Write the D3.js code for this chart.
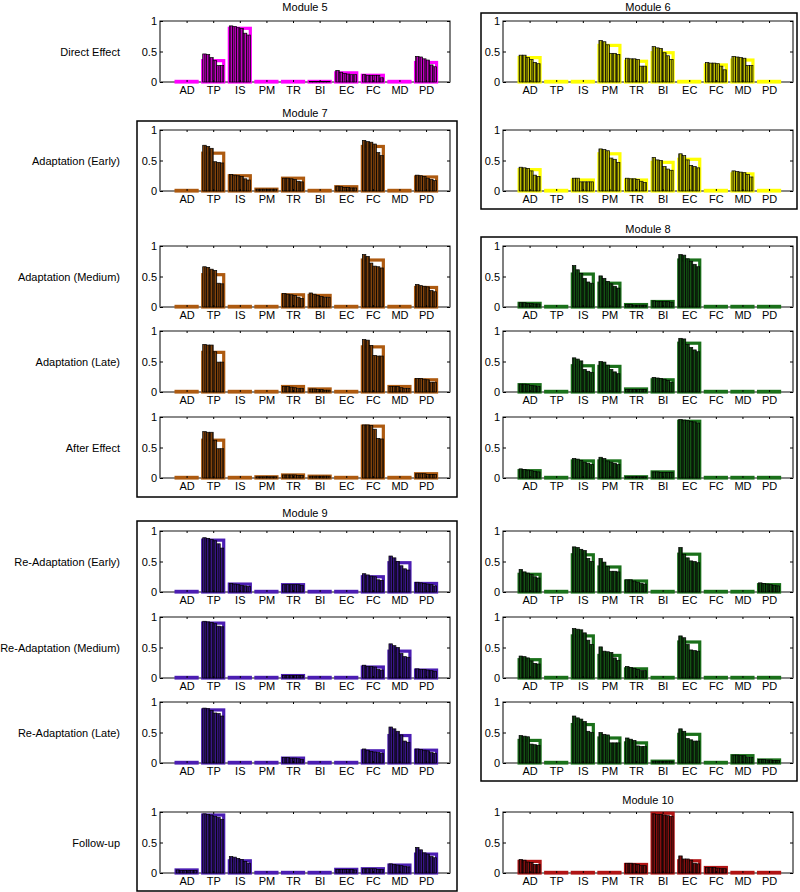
<!DOCTYPE html>
<html>
<head>
<meta charset="utf-8">
<script src="https://cdn.jsdelivr.net/npm/d3@7"></script>
<style>
  body { margin: 0; background: #fff; }
  text { font-family: "Liberation Sans", Arial, sans-serif; }
</style>
</head>
<body>
<div id="chart"></div>
<script>
const categories = ["AD", "TP", "IS", "PM", "TR", "BI", "EC", "FC", "MD", "PD"];
const rowLabels = ["Direct Effect", "Adaptation (Early)", "Adaptation (Medium)", "Adaptation (Late)",
    "After Effect", "Re-Adaptation (Early)", "Re-Adaptation (Medium)", "Re-Adaptation (Late)", "Follow-up"];

// Module 5 - Direct Effect
const m5Means = [[0.01, 0.35, 0.88, 0.01, 0.01, 0.01, 0.15, 0.11, 0.01, 0.32]];
const m5Bars = [[[], [0.46, 0.45, 0.40, 0.35, 0.27, 0.27], [0.92, 0.91, 0.89, 0.88, 0.80, 0.77], [], [],
    [0.01, 0.01, 0.01, 0.01, 0.01, 0.01], [0.19, 0.16, 0.14, 0.13, 0.12, 0.12], [0.12, 0.11, 0.11, 0.11, 0.11, 0.07],
    [], [0.42, 0.41, 0.38, 0.36, 0.28, 0.25]]];

// Module 6 - Direct Effect, Adaptation (Early)
const m6Means = [
    [0.40, 0.01, 0.01, 0.60, 0.34, 0.48, 0.01, 0.28, 0.36, 0.01],
    [0.35, 0.01, 0.18, 0.61, 0.18, 0.47, 0.52, 0.01, 0.28, 0.01]
];
const m6Bars = [
    [[0.44, 0.44, 0.40, 0.37, 0.32, 0.30], [], [], [0.68, 0.66, 0.61, 0.47, 0.47, 0.45],
     [0.39, 0.38, 0.38, 0.37, 0.26, 0.26], [0.58, 0.56, 0.55, 0.48, 0.43, 0.37], [],
     [0.32, 0.31, 0.31, 0.30, 0.26, 0.20], [0.42, 0.41, 0.40, 0.39, 0.27, 0.27], []],
    [[0.39, 0.38, 0.37, 0.33, 0.26, 0.24], [], [0.21, 0.21, 0.15, 0.15, 0.15, 0.15], [0.69, 0.68, 0.66, 0.54, 0.52, 0.47],
     [0.21, 0.20, 0.20, 0.19, 0.16, 0.14], [0.55, 0.51, 0.50, 0.40, 0.36, 0.34], [0.61, 0.58, 0.51, 0.42, 0.40, 0.38],
     [], [0.33, 0.32, 0.31, 0.30, 0.27, 0.23], []]
];

// Module 7 - Adaptation (Early, Medium, Late), After Effect
const m7Means = [
    [0.01, 0.62, 0.25, 0.03, 0.21, 0.01, 0.07, 0.73, 0.01, 0.23],
    [0.01, 0.53, 0.01, 0.01, 0.20, 0.19, 0.01, 0.77, 0.01, 0.32],
    [0.01, 0.65, 0.01, 0.01, 0.09, 0.05, 0.01, 0.74, 0.09, 0.20],
    [0.01, 0.62, 0.01, 0.02, 0.05, 0.03, 0.01, 0.85, 0.01, 0.07]
];
const m7Bars = [
    [[], [0.75, 0.73, 0.70, 0.48, 0.47, 0.46], [0.27, 0.26, 0.25, 0.24, 0.20, 0.18], [0.03, 0.03, 0.03, 0.03, 0.03, 0.03],
     [0.21, 0.21, 0.20, 0.19, 0.16, 0.15], [], [0.08, 0.07, 0.06, 0.06, 0.05, 0.05],
     [0.83, 0.81, 0.80, 0.77, 0.63, 0.58], [], [0.26, 0.25, 0.24, 0.21, 0.19, 0.17]],
    [[], [0.66, 0.65, 0.62, 0.60, 0.39, 0.38], [], [], [0.22, 0.21, 0.20, 0.19, 0.16, 0.14],
     [0.23, 0.21, 0.19, 0.17, 0.16, 0.16], [], [0.86, 0.83, 0.72, 0.67, 0.66, 0.64], [],
     [0.37, 0.35, 0.34, 0.33, 0.27, 0.25]],
    [[], [0.78, 0.77, 0.77, 0.66, 0.49, 0.49], [], [], [0.09, 0.09, 0.08, 0.07, 0.06, 0.06],
     [0.05, 0.05, 0.04, 0.04, 0.03, 0.03], [], [0.86, 0.85, 0.76, 0.60, 0.59, 0.59],
     [0.09, 0.09, 0.09, 0.07, 0.06, 0.06], [0.22, 0.22, 0.21, 0.20, 0.16, 0.16]],
    [[], [0.76, 0.75, 0.75, 0.62, 0.48, 0.48], [], [0.02, 0.02, 0.02, 0.02, 0.02, 0.02],
     [0.05, 0.05, 0.05, 0.05, 0.04, 0.04], [0.03, 0.03, 0.03, 0.03, 0.03, 0.03], [],
     [0.87, 0.87, 0.86, 0.80, 0.65, 0.64], [], [0.07, 0.07, 0.07, 0.06, 0.06, 0.06]]
];

// Module 8 - Adaptation (Medium, Late), After Effect, Re-Adaptation (Early, Medium, Late)
const m8Means = [
    [0.06, 0.01, 0.54, 0.39, 0.04, 0.09, 0.77, 0.01, 0.01, 0.01],
    [0.12, 0.01, 0.43, 0.42, 0.05, 0.20, 0.80, 0.01, 0.01, 0.01],
    [0.12, 0.01, 0.28, 0.28, 0.02, 0.10, 0.93, 0.01, 0.01, 0.01],
    [0.29, 0.01, 0.61, 0.41, 0.18, 0.01, 0.62, 0.01, 0.01, 0.12],
    [0.30, 0.01, 0.69, 0.37, 0.15, 0.01, 0.59, 0.01, 0.01, 0.01],
    [0.37, 0.01, 0.63, 0.41, 0.33, 0.03, 0.47, 0.01, 0.12, 0.05]
];
const m8Bars = [
    [[0.07, 0.07, 0.06, 0.06, 0.05, 0.05], [], [0.68, 0.61, 0.55, 0.47, 0.41, 0.39], [0.51, 0.47, 0.42, 0.38, 0.34, 0.31],
     [0.04, 0.04, 0.03, 0.03, 0.03, 0.03], [0.10, 0.09, 0.09, 0.09, 0.09, 0.08], [0.86, 0.85, 0.79, 0.75, 0.70, 0.66],
     [], [], []],
    [[0.13, 0.13, 0.12, 0.11, 0.10, 0.09], [], [0.56, 0.54, 0.51, 0.37, 0.34, 0.32], [0.50, 0.49, 0.44, 0.37, 0.33, 0.30],
     [0.04, 0.04, 0.04, 0.04, 0.04, 0.04], [0.24, 0.23, 0.22, 0.21, 0.19, 0.16], [0.88, 0.87, 0.78, 0.73, 0.69, 0.66],
     [], [], []],
    [[0.15, 0.14, 0.13, 0.12, 0.11, 0.10], [], [0.32, 0.31, 0.29, 0.26, 0.24, 0.22], [0.34, 0.32, 0.28, 0.26, 0.24, 0.22],
     [0.02, 0.02, 0.02, 0.02, 0.02, 0.02], [0.10, 0.10, 0.09, 0.09, 0.09, 0.09], [0.96, 0.95, 0.94, 0.93, 0.92, 0.90],
     [], [], []],
    [[0.37, 0.33, 0.31, 0.29, 0.25, 0.23], [], [0.74, 0.73, 0.70, 0.68, 0.55, 0.50], [0.55, 0.49, 0.42, 0.34, 0.34, 0.33],
     [0.20, 0.20, 0.18, 0.16, 0.14, 0.13], [], [0.73, 0.62, 0.56, 0.51, 0.50, 0.48], [], [],
     [0.15, 0.14, 0.13, 0.12, 0.11, 0.10]],
    [[0.36, 0.35, 0.33, 0.28, 0.24, 0.23], [], [0.81, 0.80, 0.79, 0.74, 0.62, 0.55], [0.51, 0.44, 0.43, 0.42, 0.33, 0.29],
     [0.19, 0.17, 0.16, 0.14, 0.12, 0.12], [], [0.69, 0.66, 0.55, 0.46, 0.45, 0.44], [], [], []],
    [[0.45, 0.44, 0.43, 0.31, 0.30, 0.29], [], [0.77, 0.74, 0.72, 0.68, 0.52, 0.50], [0.50, 0.47, 0.46, 0.33, 0.33, 0.33],
     [0.41, 0.39, 0.37, 0.28, 0.27, 0.27], [0.03, 0.03, 0.03, 0.03, 0.03, 0.03], [0.56, 0.52, 0.40, 0.38, 0.36, 0.36],
     [], [0.13, 0.13, 0.12, 0.12, 0.09, 0.09], [0.06, 0.06, 0.05, 0.05, 0.04, 0.04]]
];

// Module 9 - Re-Adaptation (Early, Medium, Late), Follow-up
const m9Means = [
    [0.01, 0.85, 0.13, 0.01, 0.12, 0.01, 0.01, 0.25, 0.48, 0.14],
    [0.01, 0.90, 0.01, 0.01, 0.04, 0.01, 0.01, 0.18, 0.44, 0.13],
    [0.01, 0.87, 0.01, 0.01, 0.08, 0.01, 0.01, 0.20, 0.45, 0.21],
    [0.05, 0.95, 0.20, 0.01, 0.01, 0.01, 0.06, 0.07, 0.13, 0.31]
];
const m9Bars = [
    [[], [0.89, 0.88, 0.86, 0.84, 0.79, 0.72], [0.14, 0.13, 0.12, 0.11, 0.10, 0.09], [],
     [0.12, 0.12, 0.12, 0.12, 0.12, 0.11], [], [], [0.30, 0.28, 0.26, 0.25, 0.20, 0.19],
     [0.59, 0.56, 0.50, 0.43, 0.38, 0.36], [0.16, 0.15, 0.14, 0.13, 0.12, 0.10]],
    [[], [0.93, 0.92, 0.91, 0.89, 0.85, 0.84], [], [], [0.04, 0.04, 0.04, 0.04, 0.04, 0.04], [], [],
     [0.21, 0.19, 0.19, 0.18, 0.14, 0.13], [0.56, 0.53, 0.50, 0.40, 0.35, 0.34], [0.15, 0.14, 0.14, 0.13, 0.12, 0.11]],
    [[], [0.90, 0.89, 0.86, 0.82, 0.81, 0.77], [], [], [0.09, 0.09, 0.08, 0.08, 0.07, 0.06], [], [],
     [0.23, 0.21, 0.19, 0.18, 0.17, 0.16], [0.59, 0.56, 0.52, 0.46, 0.36, 0.34], [0.23, 0.22, 0.21, 0.20, 0.17, 0.16]],
    [[0.05, 0.04, 0.04, 0.04, 0.04, 0.04], [0.97, 0.96, 0.95, 0.93, 0.91, 0.88], [0.27, 0.26, 0.24, 0.22, 0.19, 0.16],
     [], [], [], [0.06, 0.06, 0.06, 0.06, 0.06, 0.05], [0.07, 0.07, 0.07, 0.07, 0.06, 0.06],
     [0.15, 0.14, 0.13, 0.12, 0.11, 0.10], [0.42, 0.38, 0.33, 0.31, 0.27, 0.25]]
];

// Module 10 - Follow-up
const m10Means = [[0.19, 0.01, 0.01, 0.01, 0.14, 0.98, 0.20, 0.09, 0.01, 0.01]];
const m10Bars = [[[0.22, 0.21, 0.18, 0.17, 0.14, 0.14], [], [], [], [0.16, 0.16, 0.15, 0.14, 0.12, 0.12],
    [0.97, 0.96, 0.96, 0.95, 0.94, 0.93], [0.28, 0.23, 0.23, 0.21, 0.16, 0.15], [0.09, 0.09, 0.09, 0.08, 0.07, 0.07],
    [], []]];

// layout
const width = 800, height = 892;
const colX = [160, 503];
const rowTop = [21, 130, 246, 331, 417, 531, 617, 702, 812];
const panelW = 290, panelH = 61;
const fontSize = 11;

const modules = [
    { name: "Module 5", color: "#ff00ff", col: 0, row: 0, means: m5Means, bars: m5Bars, titleY: 11, box: null },
    { name: "Module 6", color: "#ffff00", col: 1, row: 0, means: m6Means, bars: m6Bars, titleY: 11, box: [481, 13, 797, 209] },
    { name: "Module 7", color: "#ad5a10", col: 0, row: 1, means: m7Means, bars: m7Bars, titleY: 117, box: [137, 121, 457, 497] },
    { name: "Module 8", color: "#1a701a", col: 1, row: 2, means: m8Means, bars: m8Bars, titleY: 233, box: [481, 237, 797, 781] },
    { name: "Module 9", color: "#4b1db2", col: 0, row: 5, means: m9Means, bars: m9Bars, titleY: 517, box: [137, 521, 457, 891] },
    { name: "Module 10", color: "#b01414", col: 1, row: 8, means: m10Means, bars: m10Bars, titleY: 804, box: null }
];

const svg = d3.select("#chart").append("svg")
    .attr("width", width)
    .attr("height", height);

const defs = svg.append("defs");

const x = d3.scaleLinear().domain([0, 10.9]).range([0, panelW]);
const y = d3.scaleLinear().domain([0, 1]).range([panelH, 0]);
const groupW = 21;
const barW = groupW / 6;

// row labels
svg.selectAll(".row-label")
    .data(rowLabels)
    .enter()
    .append("text")
    .attr("class", "row-label")
    .attr("x", 120)
    .attr("y", (d, i) => rowTop[i] + panelH / 2 + 4)
    .attr("text-anchor", "end")
    .attr("font-size", fontSize)
    .text(d => d);

modules.forEach((m, mi) => {
    // stripe pattern for the narrow bars
    const patId = "pat" + mi;
    const pat = defs.append("pattern")
        .attr("id", patId)
        .attr("patternUnits", "userSpaceOnUse")
        .attr("width", 2)
        .attr("height", 4);
    pat.append("rect").attr("width", 2).attr("height", 4).attr("fill", d3.color(m.color).darker(2.8));
    pat.append("rect").attr("x", 1).attr("width", 1).attr("height", 4).attr("fill", m.color).attr("opacity", 0.6);

    if (m.box) {
        svg.append("rect")
            .attr("x", m.box[0]).attr("y", m.box[1])
            .attr("width", m.box[2] - m.box[0]).attr("height", m.box[3] - m.box[1])
            .attr("fill", "none").attr("stroke", "#000").attr("stroke-width", 1.5);
    }

    svg.append("text")
        .attr("x", colX[m.col] + panelW / 2)
        .attr("y", m.titleY)
        .attr("text-anchor", "middle")
        .attr("font-size", fontSize)
        .text(m.name);

    m.means.forEach((means, ri) => {
        const g = svg.append("g")
            .attr("transform", `translate(${colX[m.col]}, ${rowTop[m.row + ri]})`);
        drawPanel(g, means, m.bars[ri], m.color, patId);
    });
});

function drawPanel(g, means, bars, color, patId) {
    // frame
    g.append("rect")
        .attr("width", panelW).attr("height", panelH)
        .attr("fill", "none").attr("stroke", "#000").attr("stroke-width", 1);
    g.append("line")
        .attr("x1", 0).attr("x2", panelW).attr("y1", 0).attr("y2", 0)
        .attr("stroke", "#8a8a8a").attr("stroke-width", 2);
    g.append("line")
        .attr("x1", 0).attr("x2", panelW).attr("y1", panelH).attr("y2", panelH)
        .attr("stroke", "#8a8a8a").attr("stroke-width", 1.5);

    // mean outlines
    g.selectAll(".mean")
        .data(means)
        .enter()
        .append("rect")
        .attr("class", "mean")
        .attr("x", (d, i) => x(i + 1) - groupW / 2)
        .attr("y", d => y(d))
        .attr("width", groupW)
        .attr("height", d => y(0) - y(d))
        .attr("fill", "none")
        .attr("stroke", color)
        .attr("stroke-width", 3.2);

    // narrow bars
    const flat = [];
    bars.forEach((vals, i) => vals.forEach((v, j) => flat.push({ i, j, v })));
    g.selectAll(".bar")
        .data(flat)
        .enter()
        .append("rect")
        .attr("class", "bar")
        .attr("x", d => x(d.i + 1) - groupW / 2 + d.j * barW)
        .attr("y", d => y(d.v))
        .attr("width", barW)
        .attr("height", d => y(0) - y(d.v))
        .attr("fill", `url(#${patId})`)
        .attr("stroke", "#000")
        .attr("stroke-width", 0.7);

    // axes
    const yAxis = d3.axisLeft(y).tickValues([0, 0.5, 1]).tickFormat(d3.format("~g")).tickSize(-3).tickPadding(3);
    const ya = g.append("g").call(yAxis);
    ya.select(".domain").remove();
    ya.selectAll("text").attr("font-size", fontSize).attr("font-family", "Liberation Sans, Arial, sans-serif");

    const yRight = d3.axisRight(y).tickValues([0, 0.5, 1]).tickFormat("").tickSize(-3);
    const yr = g.append("g").attr("transform", `translate(${panelW},0)`).call(yRight);
    yr.select(".domain").remove();

    const xAxis = d3.axisBottom(x).tickValues(d3.range(1, 11)).tickFormat(i => categories[i - 1]).tickSize(-2).tickPadding(4);
    const xa = g.append("g").attr("transform", `translate(0,${panelH})`).call(xAxis);
    xa.select(".domain").remove();
    xa.selectAll("text").attr("font-size", fontSize).attr("font-family", "Liberation Sans, Arial, sans-serif");

    const xTop = d3.axisTop(x).tickValues(d3.range(1, 11)).tickFormat("").tickSize(-2);
    const xt = g.append("g").call(xTop);
    xt.select(".domain").remove();
}
</script>
</body>
</html>
